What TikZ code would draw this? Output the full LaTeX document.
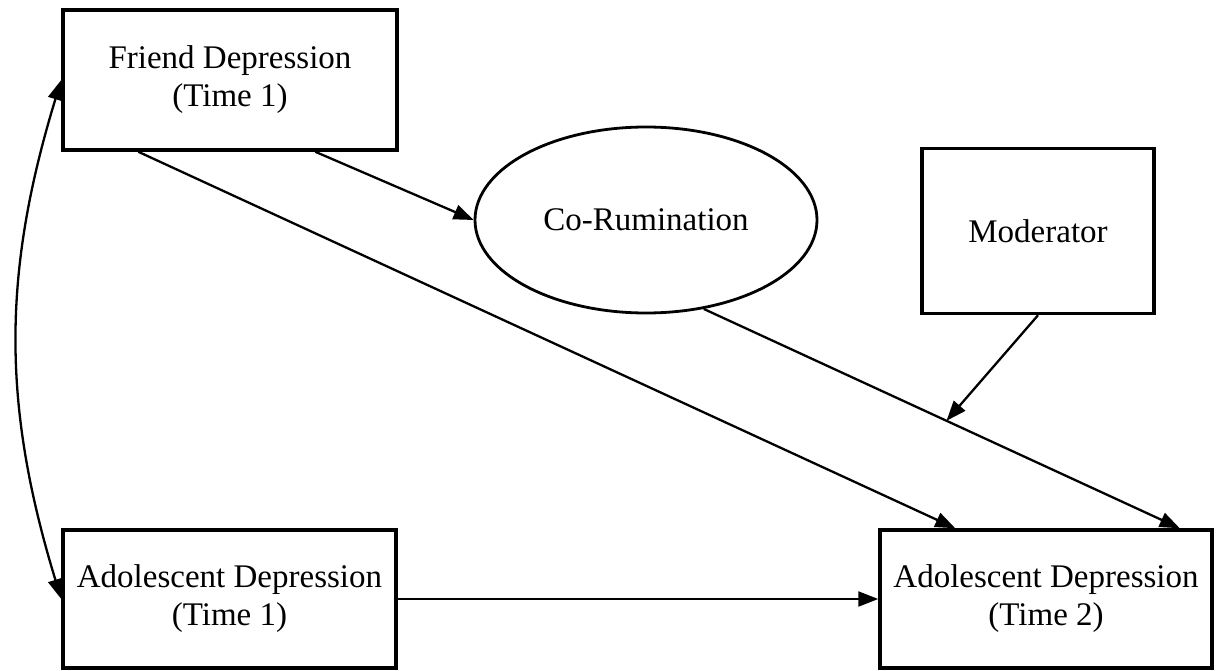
\documentclass[tikz,border=0pt]{standalone}
\usepackage{fontspec}
\setmainfont{Liberation Serif}
\usetikzlibrary{arrows.meta,shapes.geometric,calc}
\tikzset{
  var/.style={draw, line width=3.5pt, inner sep=0pt, align=center,
    font=\fontsize{33}{38}\selectfont},
  latent/.style={ellipse, draw, line width=2.8pt, inner sep=0pt,
    font=\fontsize{33}{38}\selectfont},
  path/.style={line width=2.3pt, -{Triangle[length=20pt,width=15pt]}},
  cov/.style={line width=2.3pt, {Triangle[length=20pt,width=15pt]}-{Triangle[length=20pt,width=15pt]}},
}
\begin{document}
\begin{tikzpicture}[x=1pt,y=-1pt]
  \useasboundingbox (0,0) rectangle (1218,671);
  % variables
  \node[var, minimum width=334pt, minimum height=140pt] (fd) at (230,80) {Friend Depression\\(Time 1)};
  \node[latent, minimum width=342pt, minimum height=186pt] (cr) at (646,220) {Co-Rumination};
  \node[var, minimum width=232pt, minimum height=165pt] (mod) at (1038,231) {Moderator};
  \node[var, minimum width=333pt, minimum height=138pt] (ad1) at (229.5,599) {Adolescent Depression\\(Time 1)};
  \node[var, minimum width=332pt, minimum height=138pt] (ad2) at (1046,599) {Adolescent Depression\\(Time 2)};
  % paths
  \draw[path] ([xshift=77pt]fd.south west) -- ([xshift=77pt]ad2.north west);
  \draw[path] ([xshift=254pt]fd.south west) -- (cr.west);
  \draw[path] (cr.-57) -- ([xshift=-34pt]ad2.north east);
  \coordinate (modpt) at ($(cr.-57)!0.51!([xshift=-34pt]ad2.north east)$);
  \draw[path] (mod.south) -- (modpt);
  \draw[path] (ad1.east) -- (ad2.west);
  \draw[cov] (ad1.west) to[bend left=17] (fd.west);
\end{tikzpicture}
\end{document}
